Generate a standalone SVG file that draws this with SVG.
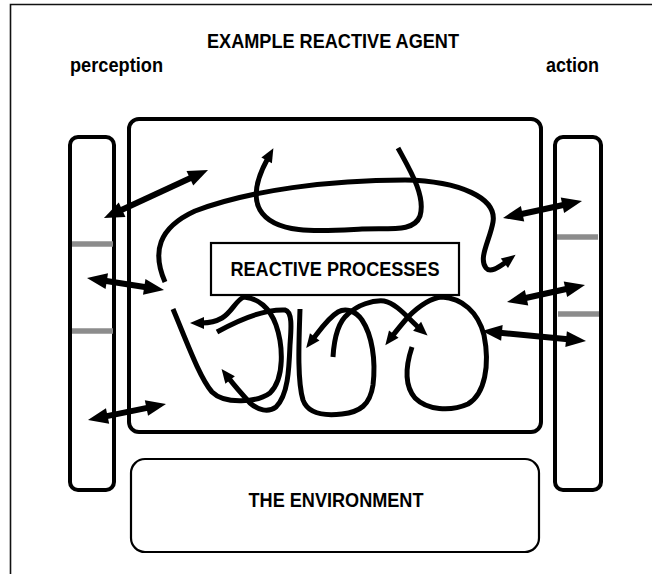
<svg xmlns="http://www.w3.org/2000/svg" width="652" height="574" viewBox="0 0 652 574">
  <style>
    .lbl { font-family: "Liberation Sans", Arial, sans-serif; font-weight: bold; font-size: 19.5px; fill: #000; }
    .frame { fill: none; stroke: #000; stroke-width: 4; }
    .thin { fill: #fff; stroke: #000; stroke-width: 2.2; }
    .tick { stroke: #8c8c8c; stroke-width: 5.5; }
    .flow { fill: none; stroke: #000; stroke-width: 5; stroke-linejoin: round; marker-end: url(#hd); }
    .link { fill: none; stroke: #000; stroke-width: 6; marker-start: url(#dbl); marker-end: url(#dbl); }
  </style>
  <defs>
    <marker id="dbl" markerUnits="userSpaceOnUse" markerWidth="22" markerHeight="18" refX="2" refY="8" orient="auto-start-reverse" overflow="visible">
      <path d="M0,0 L20,8 L0,16 z" fill="#000"/>
    </marker>
    <marker id="hd" markerUnits="userSpaceOnUse" markerWidth="16" markerHeight="12" refX="2" refY="6" orient="auto" overflow="visible">
      <path d="M0,0 L14,6 L0,12 z" fill="#000"/>
    </marker>
  </defs>

  <rect width="652" height="574" fill="#fff"/>
  <!-- page frame (left and top edges) -->
  <path d="M10.5,574 V4.5 H652" fill="none" stroke="#111" stroke-width="1.6"/>

  <g id="title">
    <text class="lbl" x="333" y="48" text-anchor="middle" textLength="252" lengthAdjust="spacingAndGlyphs">EXAMPLE REACTIVE AGENT</text>
  </g>
  <g id="perception-label">
    <text class="lbl" x="70" y="72" textLength="93" lengthAdjust="spacingAndGlyphs">perception</text>
  </g>
  <g id="action-label">
    <text class="lbl" x="546" y="72" textLength="53" lengthAdjust="spacingAndGlyphs">action</text>
  </g>

  <g id="perception-bar">
    <rect class="frame" x="70" y="137" width="44" height="353" rx="8"/>
    <line class="tick" x1="72" y1="244" x2="113" y2="244"/>
    <line class="tick" x1="72" y1="331" x2="113" y2="331"/>
  </g>

  <g id="action-bar">
    <rect class="frame" x="555" y="137" width="46" height="353" rx="8"/>
    <line class="tick" x1="557" y1="237" x2="598" y2="237"/>
    <line class="tick" x1="558" y1="314" x2="599" y2="314"/>
  </g>

  <g id="agent">
    <rect class="frame" x="129" y="119" width="412" height="313" rx="10"/>
  </g>

  <g id="reactive-processes">
    <rect class="thin" x="211" y="243" width="248" height="52"/>
    <text class="lbl" x="335" y="276" text-anchor="middle" textLength="209" lengthAdjust="spacingAndGlyphs">REACTIVE PROCESSES</text>
  </g>

  <g id="environment">
    <rect class="thin" x="131" y="459" width="408" height="93" rx="14"/>
    <text class="lbl" x="336" y="507" text-anchor="middle" textLength="175" lengthAdjust="spacingAndGlyphs">THE ENVIRONMENT</text>
  </g>

  <g id="connectors">
    <!-- process trails inside the agent -->
    <path class="flow" d="M165,282 C152,252 158,228 195,211 C250,190 330,180 405,180 C460,181 497,198 493,222 C490,240 478,258 486,268 C490,273 498,268 506,262"/>
    <path class="flow" d="M398,148 C410,170 426,196 420,216 C414,232 392,228 362,229 C325,231 275,236 260,210 C252,196 257,178 267.6,158.7"/>
    <path class="flow" d="M173,309 C188,345 200,378 212,392 C225,405 258,402 270,393 C285,378 283,345 276,325 C270,308 258,298 244,297 C236,300 232,312 222,318 C215,322 208,323 202,323"/>
    <path class="flow" d="M217,332 C235,322 262,309 285,310 C293,312 291,330 290,345 C289,370 288,395 276,407 C268,413 258,410 250,403 C240,392 234,385 228.9,378.4"/>
    <path class="flow" d="M300,309 C299,340 297,380 303,400 C308,414 325,416 342,414 C360,412 370,405 373,385 C376,360 372,335 362,320 C355,310 345,308 338,312 C328,318 320,330 313.5,338.5"/>
    <path class="flow" d="M333,357 C334,340 338,322 348,314 C358,305 372,300 384,301 C396,303 408,318 418.6,327.5"/>
    <path class="flow" d="M412,347 C406,365 404,385 415,398 C427,410 450,412 468,404 C485,394 490,365 484,335 C478,312 462,298 442,297 C430,298 418,307 408,317 C402,324 397,330 392.6,335.8"/>

    <!-- exchanges with perception and action -->
    <path class="link" d="M120.3,210.5 L191.7,177.5"/>
    <path class="link" d="M104.8,280.8 L146.2,287.2"/>
    <path class="link" d="M105.6,416.4 L148.4,407.6"/>
    <path class="link" d="M520.6,214.2 L564.4,204.8"/>
    <path class="link" d="M524.6,298.2 L567.4,288.8"/>
    <path class="link" d="M499.9,332.7 L568.1,339.3"/>
  </g>
</svg>
